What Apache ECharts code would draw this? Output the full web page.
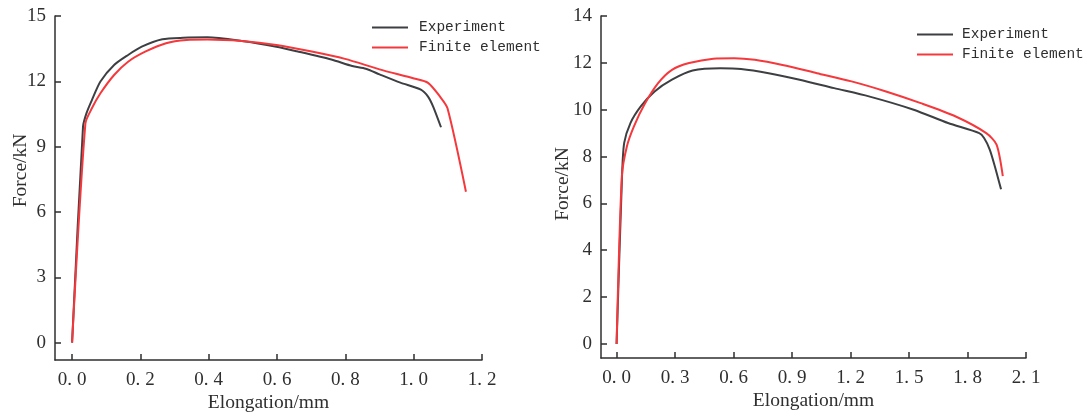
<!DOCTYPE html>
<html>
<head>
<meta charset="utf-8">
<script src="https://cdn.jsdelivr.net/npm/echarts@6/dist/echarts.min.js"></script>
<style>
  html, body { margin: 0; padding: 0; background: #ffffff; }
  #chart { width: 1083px; height: 412px; }
</style>
</head>
<body>
<div id="chart"></div>
<script>
// Force–elongation curves of two specimens: test record vs. finite element model.
// Each point is [elongation (mm), force (kN)].

// Specimen A (left panel)
const expA = [
  [0, 0], [0.032, 9.92], [0.042, 10.53], [0.058, 11.14], [0.083, 11.99],
  [0.123, 12.75], [0.164, 13.21], [0.204, 13.59], [0.264, 13.93], [0.325, 14.0],
  [0.396, 14.02], [0.497, 13.85], [0.598, 13.59], [0.658, 13.38], [0.759, 13.0],
  [0.820, 12.7], [0.86, 12.58], [0.90, 12.32], [0.961, 11.94], [1.021, 11.62],
  [1.042, 11.3], [1.057, 10.84], [1.080, 9.89]
];
const feA = [
  [0, 0], [0.039, 10.07], [0.058, 10.76], [0.083, 11.45], [0.123, 12.29],
  [0.164, 12.9], [0.214, 13.36], [0.275, 13.75], [0.335, 13.9], [0.396, 13.92],
  [0.497, 13.85], [0.598, 13.67], [0.698, 13.38], [0.799, 13.03], [0.90, 12.55],
  [1.001, 12.13], [1.042, 11.93], [1.077, 11.3], [1.099, 10.76], [1.153, 6.93]
];
const xTicksA = [0, 0.2, 0.4, 0.6, 0.8, 1.0, 1.2];
const yTicksA = [0, 3, 6, 9, 12, 15];

// Specimen B (right panel)
const expB = [
  [0, 0], [0.028, 7.2], [0.039, 8.58], [0.071, 9.43], [0.124, 10.14],
  [0.195, 10.78], [0.284, 11.28], [0.39, 11.67], [0.532, 11.77], [0.638, 11.74],
  [0.78, 11.56], [0.939, 11.28], [1.116, 10.92], [1.294, 10.57], [1.524, 10.0],
  [1.70, 9.43], [1.86, 9.0], [1.885, 8.79], [1.914, 8.3], [1.94, 7.59], [1.972, 6.6]
];
const feB = [
  [0, 0], [0.027, 7.16], [0.053, 8.44], [0.089, 9.29], [0.142, 10.21],
  [0.213, 11.13], [0.284, 11.7], [0.372, 11.99], [0.496, 12.18], [0.603, 12.2],
  [0.709, 12.13], [0.851, 11.91], [1.028, 11.56], [1.205, 11.21], [1.382, 10.78],
  [1.56, 10.28], [1.737, 9.72], [1.896, 9.0], [1.949, 8.51], [1.981, 7.16]
];
const xTicksB = [0, 0.3, 0.6, 0.9, 1.2, 1.5, 1.8, 2.1];
const yTicksB = [0, 2, 4, 6, 8, 10, 12, 14];

const seriesNames = ['Experiment', 'Finite element'];

const INK = '#2f2f2f';
const LINE_DARK = '#3d3f42';
const LINE_RED = '#f5383c';

// x tick labels: the decimal point is followed by a small gap
function xLabel(v) {
  const [a, b] = v.toFixed(1).split('.');
  return '{d|' + a + '}{p|.}{d|' + b + '}';
}

function xAxis(gridIndex, min, max, ticks) {
  return {
    type: 'value', gridIndex, min, max,
    name: 'Elongation/mm', nameLocation: 'middle', nameGap: 33, nameMoveOverlap: false,
    nameTextStyle: { fontFamily: 'Liberation Serif', fontSize: 19.5, color: INK },
    axisLine: { show: true, onZero: false, lineStyle: { color: INK, width: 1.5 } },
    axisTick: { show: true, inside: true, length: 6, customValues: ticks, lineStyle: { color: INK, width: 1.5 } },
    axisLabel: {
      customValues: ticks, margin: 11,
      fontFamily: 'Liberation Serif', fontSize: 19, color: INK,
      formatter: xLabel,
      rich: {
        d: { fontFamily: 'Liberation Serif', fontSize: 19, color: INK },
        p: { fontFamily: 'Liberation Serif', fontSize: 19, color: INK, padding: [0, 5, 0, 0] }
      }
    },
    splitLine: { show: false }
  };
}

function yAxis(gridIndex, min, max, ticks, shift, gap) {
  return {
    type: 'value', gridIndex, min, max,
    name: 'Force/kN', nameLocation: 'middle', nameGap: gap, nameMoveOverlap: false,
    nameTextStyle: { fontFamily: 'Liberation Serif', fontSize: 19.5, color: INK, padding: [0, 0, 0, shift] },
    axisLine: { show: true, onZero: false, lineStyle: { color: INK, width: 1.5 } },
    axisTick: { show: true, inside: true, length: 6, customValues: ticks, lineStyle: { color: INK, width: 1.5 } },
    axisLabel: {
      customValues: ticks, margin: 9,
      fontFamily: 'Liberation Serif', fontSize: 19, color: INK
    },
    splitLine: { show: false }
  };
}

function line(name, data, idx, color) {
  return {
    type: 'line', name, data, xAxisIndex: idx, yAxisIndex: idx,
    showSymbol: false, smooth: 0.25, color,
    lineStyle: { color, width: 2 }
  };
}

function legend(left, top, textGap) {
  return {
    data: seriesNames, orient: 'vertical', left, top,
    icon: 'rect', itemWidth: 36, itemHeight: 2, itemGap: 5,
    textStyle: { fontFamily: 'Liberation Mono', fontSize: 14.5, color: INK, padding: [0, 0, 0, textGap] }
  };
}

const chart = echarts.init(document.getElementById('chart'), null, { renderer: 'canvas' });
chart.setOption({
  backgroundColor: '#ffffff',
  animation: false,
  legend: [legend(367, 15, 6), legend(912, 22, 4)],
  grid: [
    { left: 55, top: 16, right: 601, bottom: 52, outerBoundsMode: 'none', containLabel: false },
    { left: 601, top: 16, right: 57, bottom: 54, outerBoundsMode: 'none', containLabel: false }
  ],
  xAxis: [xAxis(0, -0.05, 1.2, xTicksA), xAxis(1, -0.08, 2.1, xTicksB)],
  yAxis: [yAxis(0, -0.8, 15, yTicksA, 35, 24.5), yAxis(1, -0.6, 14, yTicksB, 6, 28)],
  series: [
    line(seriesNames[0], expA, 0, LINE_DARK),
    line(seriesNames[1], feA, 0, LINE_RED),
    line(seriesNames[0], expB, 1, LINE_DARK),
    line(seriesNames[1], feB, 1, LINE_RED)
  ]
});
</script>
</body>
</html>
